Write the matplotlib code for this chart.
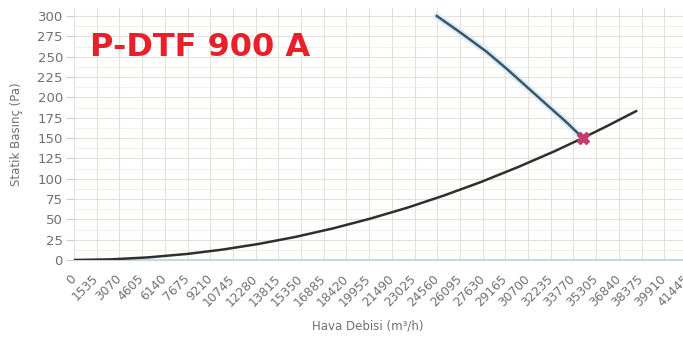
import matplotlib
matplotlib.use("Agg")
import matplotlib.pyplot as plt
import matplotlib.patheffects as pe

plt.rcParams['font.family'] = ['DejaVu Sans']

# system curve (air flow m3/h, pressure Pa)
sys_q = [0, 2500, 5000, 7675, 10000, 12500, 15000, 17500, 20000, 22500,
         25000, 27500, 30000, 32500, 34400, 36000, 38000]
sys_p = [0, 0.8, 3.2, 7.5, 12.7, 19.8, 28.5, 38.8, 50.7, 64.1,
         79.2, 95.8, 114.1, 133.8, 150, 164.3, 183]

# fan curve
fan_q = [24530, 26100, 27900, 29260, 30610, 31960, 33320, 34400]
fan_p = [300, 280, 256, 235, 213, 191, 169, 150]

op_q = [34400]
op_p = [150]

xticks = [i * 1535 for i in range(28)]
yticks = list(range(0, 301, 25))

W, H = 683, 338
fig = plt.figure(figsize=(W / 100, H / 100), dpi=100)
left, right, bottom, top = 74, 687, 260, 8
ax = fig.add_axes([left / W, (H - bottom) / H, (right - left) / W, (bottom - top) / H])

ax.set_xlim(0, 41445)
ax.set_ylim(0, 300 + 8 / 20.33 * 25)

ax.set_xticks(xticks)
ax.set_yticks(yticks)
ax.set_yticks([v + 12.5 for v in yticks[:-1]], minor=True)
ax.grid(True, which='major', color='#e6e1d8', lw=0.8)
ax.grid(True, which='minor', axis='y', color='#f0ece5', lw=0.6)
ax.set_axisbelow(True)

ax.tick_params(axis='y', which='minor', length=0)
ax.tick_params(axis='y', which='major', colors='#cccccc', length=6, width=0.8,
               labelcolor='#707070', labelsize=9.5, pad=2)
ax.tick_params(axis='x', which='major', length=0, labelcolor='#707070',
               labelsize=8.8, pad=12)
ax.set_xticklabels([str(v) for v in xticks], rotation=45, ha='right',
                   va='center', rotation_mode='anchor')

for s in ['top', 'right', 'left']:
    ax.spines[s].set_visible(False)
ax.spines['bottom'].set_color('#c5d6e2')
ax.spines['bottom'].set_linewidth(1.5)

ax.plot(sys_q, sys_p, color='#2f2f2f', lw=1.8, zorder=3)
ax.plot(fan_q, fan_p, color='#3e5566', lw=1.8, zorder=4,
        path_effects=[pe.Stroke(linewidth=5, foreground='#d9edf8'), pe.Normal()])
ax.plot(op_q, op_p, marker='X', color='#c83a6a', markersize=8, ls='none', zorder=5)

ax.set_ylabel('Statik Basınç (Pa)', fontsize=8.5, color='#707070', labelpad=10)
fig.text(368 / W, 1 - 326 / H, 'Hava Debisi (m³/h)', fontsize=8.5, color='#707070',
         ha='center', va='center')

fig.text(90 / W, 1 - 48 / H, 'P-DTF 900 A', fontsize=23, color='#e8202a',
         fontweight='bold', ha='left', va='center')

fig.savefig('out.png', dpi=100)
